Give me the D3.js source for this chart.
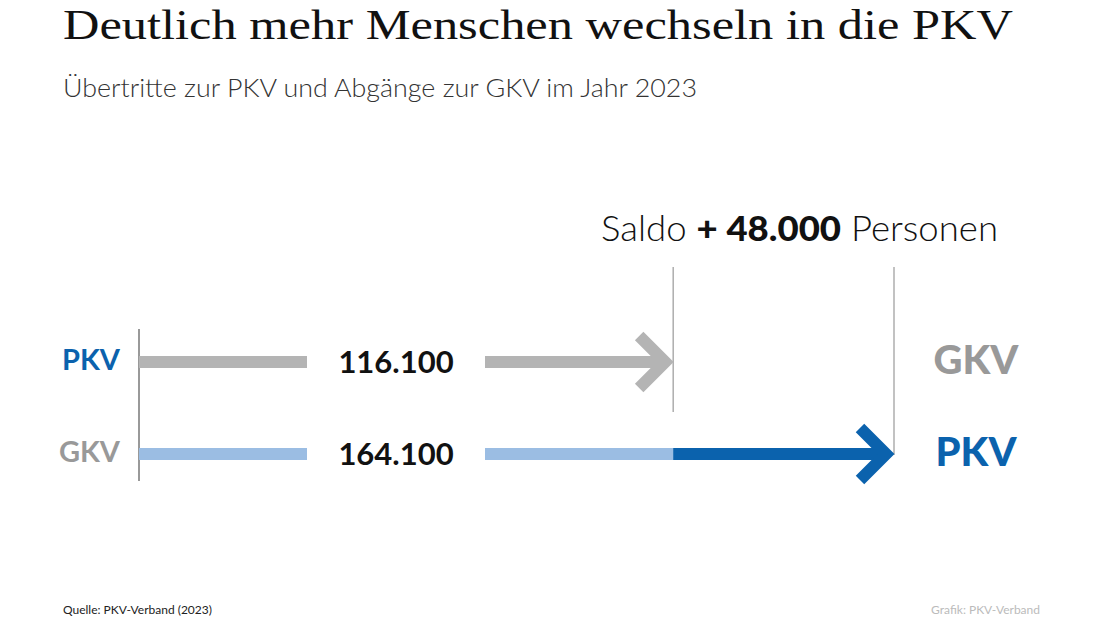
<!DOCTYPE html>
<html>
<head>
<meta charset="utf-8">
<script src="https://cdn.jsdelivr.net/npm/d3@7"></script>
<style>
  body { margin: 0; background: #fff; }
  svg { display: block; }
</style>
</head>
<body>
<svg id="canvas"></svg>
<script>
// Data
const fromLabels = ["PKV", "GKV"];
const toLabels = ["GKV", "PKV"];
const values = [116100, 164100];
const valueLabels = ["116.100", "164.100"];
const saldo = 48000;
const saldoLabel = "+ 48.000";

const width = 1100, height = 618;
const svg = d3.select("#canvas").attr("width", width).attr("height", height);

const sans = "'Source Sans Pro', Lato, 'Noto Sans', sans-serif";
const blue = "#0b62ad", lightBlue = "#9bbde3", gray = "#b4b4b4", grayText = "#999";

// Title + subtitle
svg.append("text")
   .attr("x", 63).attr("y", 39)
   .attr("font-family", "'Liberation Serif', serif")
   .attr("font-size", 42)
   .attr("fill", "#111")
   .attr("textLength", 950).attr("lengthAdjust", "spacingAndGlyphs")
   .text("Deutlich mehr Menschen wechseln in die PKV");

svg.append("text")
   .attr("x", 63).attr("y", 97)
   .attr("font-family", sans).attr("font-weight", 300)
   .attr("font-size", 26)
   .attr("fill", "#333")
   .attr("textLength", 634).attr("lengthAdjust", "spacingAndGlyphs")
   .text("Übertritte zur PKV und Abgänge zur GKV im Jahr 2023");

// Scales
const x = d3.scaleLinear().domain([0, d3.max(values)]).range([139, 894]);
const y = d3.scaleBand().domain(fromLabels).range([316, 500]).padding(0);
const rowY = d => y(d) + y.bandwidth() / 2;

const labelCenter = 396, labelGap = 89;
const barW = 12;

// left axis line
svg.append("line")
   .attr("x1", x(0)).attr("x2", x(0))
   .attr("y1", rowY(fromLabels[0]) - 33).attr("y2", rowY(fromLabels[1]) + 27)
   .attr("stroke", "#777").attr("stroke-width", 1.5);

// vertical reference lines at each value
values.forEach((v, i) => {
   svg.append("line")
      .attr("x1", x(v)).attr("x2", x(v))
      .attr("y1", 267).attr("y2", rowY(fromLabels[i]) + (i === 0 ? 50 : 1))
      .attr("stroke", "#999").attr("stroke-width", 1.2);
});

const minV = d3.min(values);

fromLabels.forEach((lab, i) => {
   const cy = rowY(lab);
   const v = values[i];
   const baseColor = i === 0 ? gray : lightBlue;
   // left segment
   svg.append("rect")
      .attr("x", x(0)).attr("y", cy - barW / 2)
      .attr("width", labelCenter - labelGap - x(0)).attr("height", barW)
      .attr("fill", baseColor);
   // right segment up to common value
   const endBase = Math.min(v, minV);
   svg.append("rect")
      .attr("x", labelCenter + labelGap).attr("y", cy - barW / 2)
      .attr("width", x(endBase) - (labelCenter + labelGap) - (v === endBase ? 10 : 0)).attr("height", barW)
      .attr("fill", baseColor);
   // extra (saldo) segment
   if (v > minV) {
      svg.append("rect")
         .attr("x", x(minV)).attr("y", cy - barW / 2)
         .attr("width", x(v) - x(minV) - 10).attr("height", barW)
         .attr("fill", blue);
   }
   // arrowhead (path tip pulled back so the mitred point ends at the value)
   const tip = x(v) - 8;
   const headColor = v > minV ? blue : gray;
   const ah = 26;
   svg.append("path")
      .attr("d", `M${tip - ah},${cy - ah} L${tip},${cy} L${tip - ah},${cy + ah}`)
      .attr("fill", "none").attr("stroke", headColor)
      .attr("stroke-width", 12).attr("stroke-linejoin", "miter").attr("stroke-miterlimit", 2);

   // value label
   svg.append("text")
      .attr("x", labelCenter).attr("y", cy)
      .attr("dy", "0.35em")
      .attr("text-anchor", "middle")
      .attr("font-family", sans).attr("font-weight", 700)
      .attr("font-size", 31).attr("fill", "#111")
      .text(valueLabels[i]);

   // from label
   svg.append("text")
      .attr("x", 120).attr("y", cy - 2)
      .attr("dy", "0.35em")
      .attr("text-anchor", "end")
      .attr("font-family", sans).attr("font-weight", 700)
      .attr("font-size", 29)
      .attr("fill", lab === "PKV" ? blue : grayText)
      .text(lab);

   // to label
   svg.append("text")
      .attr("x", 976).attr("y", cy - 2)
      .attr("dy", "0.35em")
      .attr("text-anchor", "middle")
      .attr("font-family", sans).attr("font-weight", 900)
      .attr("font-size", 40)
      .attr("fill", toLabels[i] === "PKV" ? blue : grayText)
      .text(toLabels[i]);
});

// Saldo label
const saldoText = svg.append("text")
   .attr("x", 601).attr("y", 241)
   .attr("font-family", sans)
   .attr("font-size", 35).attr("fill", "#111")
   .attr("textLength", 397).attr("lengthAdjust", "spacingAndGlyphs");
saldoText.append("tspan").attr("font-weight", 300).text("Saldo ");
saldoText.append("tspan").attr("font-weight", 900).text(saldoLabel);
saldoText.append("tspan").attr("font-weight", 300).text(" Personen");

// Footer (at the bottom edge)
svg.append("text")
   .attr("x", 63).attr("y", 614)
   .attr("font-family", sans).attr("font-size", 12).attr("fill", "#222")
   .text("Quelle: PKV-Verband (2023)");
svg.append("text")
   .attr("x", 1040).attr("y", 614)
   .attr("text-anchor", "end")
   .attr("font-family", sans).attr("font-size", 12).attr("fill", "#bbb")
   .text("Grafik: PKV-Verband");
</script>
</body>
</html>
